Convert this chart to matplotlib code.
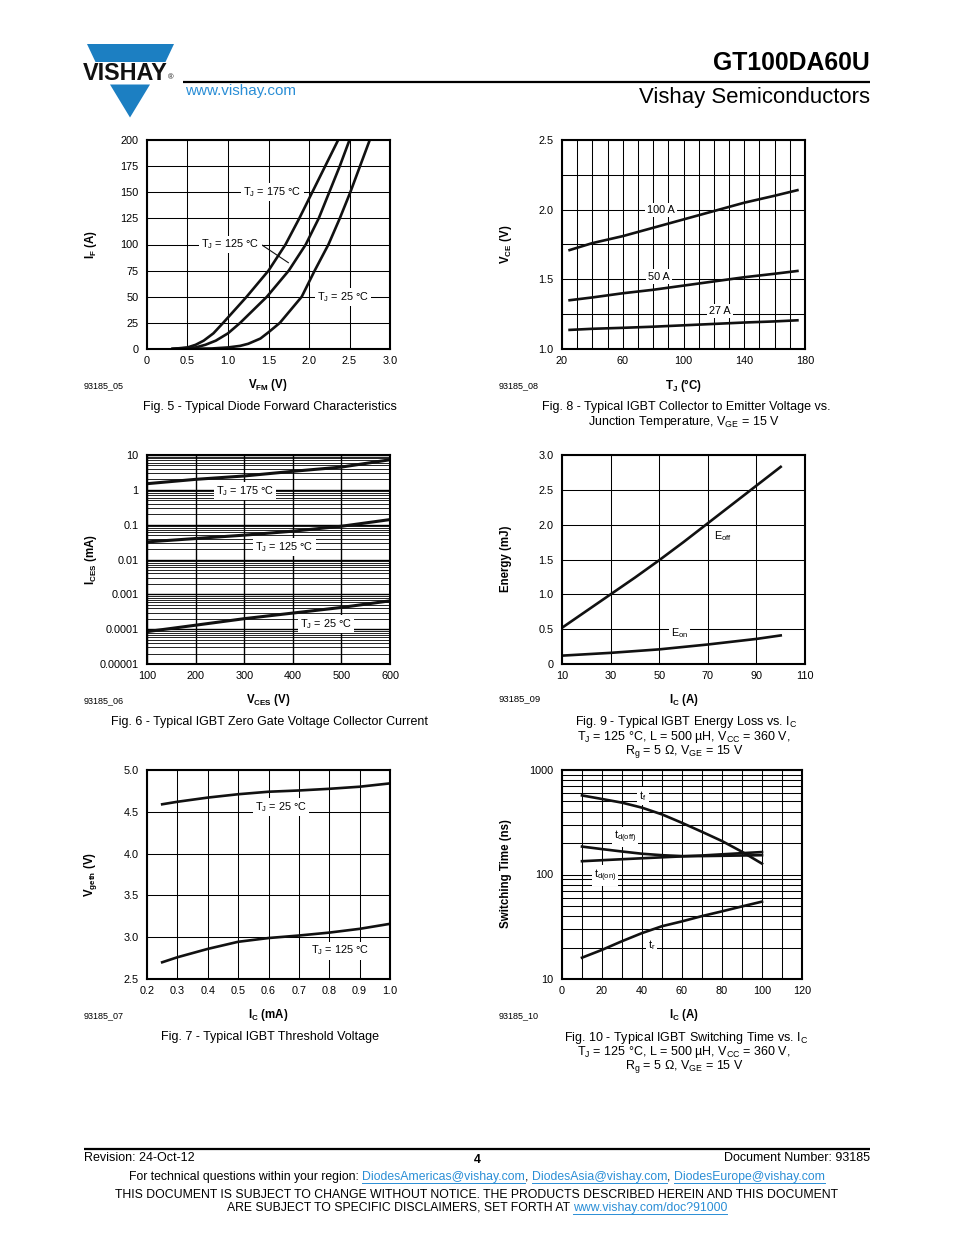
import numpy as np
import matplotlib
matplotlib.use('Agg')
import matplotlib.pyplot as plt
from matplotlib.ticker import FixedLocator, MultipleLocator, NullFormatter
from matplotlib.patches import Polygon

plt.rcParams['font.family'] = ['Liberation Sans', 'DejaVu Sans']
plt.rcParams['mathtext.fontset'] = 'custom'
plt.rcParams['mathtext.rm'] = 'Liberation Sans'
plt.rcParams['mathtext.it'] = 'Liberation Sans:italic'
plt.rcParams['mathtext.bf'] = 'Liberation Sans:bold'

W, H = 954, 1235
BLUE_LOGO = '#1c7fc2'
BLUE_LINK = '#2a8ed6'

# ---- Fig 5: diode forward characteristics
vf_175 = [0.3, 0.5, 0.6, 0.7, 0.82, 0.94, 1.23, 1.5, 1.71, 1.88, 2.04, 2.2, 2.36]
if_175 = [0, 1.5, 4, 8, 15, 25, 50, 75, 100, 125, 150, 175, 200]
vf_125 = [0.3, 0.6, 0.72, 0.85, 1.0, 1.15, 1.48, 1.75, 1.96, 2.12, 2.25, 2.38, 2.5]
if_125 = [0, 1.5, 4, 8, 15, 25, 50, 75, 100, 125, 150, 175, 200]
vf_25 = [0.3, 0.8, 1.0, 1.15, 1.25, 1.4, 1.5, 1.64, 1.91, 2.07, 2.24, 2.38, 2.51, 2.63, 2.75]
if_25 = [0, 0.5, 1.5, 3, 5, 10, 16, 25, 50, 75, 100, 125, 150, 175, 200]

# ---- Fig 8: VCE vs TJ
tj = [25, 40, 60, 80, 100, 120, 140, 160, 175]
vce_100 = [1.71, 1.76, 1.81, 1.87, 1.93, 1.99, 2.05, 2.10, 2.14]
vce_50 = [1.35, 1.37, 1.40, 1.425, 1.455, 1.485, 1.515, 1.54, 1.56]
vce_27 = [1.137, 1.145, 1.152, 1.16, 1.17, 1.18, 1.19, 1.198, 1.206]

# ---- Fig 6: ICES vs VCES
vces = [100, 200, 300, 400, 500, 600]
ices_175 = [1.5, 2.0, 2.5, 3.4, 4.5, 7.3]
ices_125 = [0.032, 0.040, 0.050, 0.065, 0.09, 0.14]
ices_25 = [8.5e-5, 1.3e-4, 2.0e-4, 2.9e-4, 4.2e-4, 6.5e-4]

# ---- Fig 9: energy loss vs IC
ic_e = [10, 20, 30, 40, 50, 60, 70, 80, 90, 100]
e_off = [0.52, 0.76, 1.0, 1.24, 1.49, 1.75, 2.02, 2.29, 2.56, 2.83]
e_on = [0.12, 0.14, 0.16, 0.185, 0.21, 0.245, 0.28, 0.32, 0.36, 0.41]

# ---- Fig 7: threshold voltage
ic_th = [0.25, 0.3, 0.4, 0.5, 0.6, 0.7, 0.8, 0.9, 1.0]
vth_25 = [4.59, 4.62, 4.67, 4.71, 4.74, 4.755, 4.775, 4.80, 4.84]
vth_125 = [2.70, 2.76, 2.86, 2.945, 2.99, 3.02, 3.055, 3.10, 3.16]

# ---- Fig 10: switching time vs IC
ic_s = [10, 20, 30, 40, 50, 60, 70, 80, 90, 100]
t_f = [571, 528, 487, 436, 376, 312, 256, 209, 165, 127]
t_doff = [185, 175, 166, 158, 153, 150, 150, 151, 152, 153]
t_don = [134, 137, 140, 143, 146, 149, 152, 156, 160, 164]
t_r = [16, 19, 23, 27.5, 32, 35.6, 40, 44.4, 49.5, 55]

fig = plt.figure(figsize=(W / 100, H / 100), dpi=100)

TICK_FS = 7.8
LAB_FS = 8.3
CAP_FS = 9.0
CURVE_LW = 1.9
LBOX = dict(facecolor='white', edgecolor='none', pad=1.5)


def make_ax(l, t, r, b):
    ax = fig.add_axes([l / W, 1 - b / H, (r - l) / W, (b - t) / H])
    for s in ax.spines.values():
        s.set_linewidth(1.5)
    ax.tick_params(which='both', length=0, labelsize=TICK_FS)
    ax.tick_params(axis='x', pad=5)
    ax.tick_params(axis='y', pad=6)
    ax.grid(True, which='both', color='black', lw=0.75)
    ax.set_axisbelow(True)
    return ax


def set_lin(ax, xt, xl, yt, yl, xminor=None, yminor=None):
    ax.set_xlim(xt[0], xt[-1])
    ax.set_ylim(yt[0], yt[-1])
    ax.set_xticks(xt)
    ax.set_xticklabels(xl)
    ax.set_yticks(yt)
    ax.set_yticklabels(yl)
    if xminor:
        ax.xaxis.set_minor_locator(MultipleLocator(xminor))
    if yminor:
        ax.yaxis.set_minor_locator(MultipleLocator(yminor))


# ---------------- Fig 5
ax5 = make_ax(147, 140, 390, 349)
set_lin(ax5, [0, 0.5, 1.0, 1.5, 2.0, 2.5, 3.0], ['0', '0.5', '1.0', '1.5', '2.0', '2.5', '3.0'],
        [0, 25, 50, 75, 100, 125, 150, 175, 200], ['0', '25', '50', '75', '100', '125', '150', '175', '200'])
ax5.plot(vf_175, if_175, color='#111', lw=CURVE_LW, solid_capstyle='butt')
ax5.plot(vf_125, if_125, color='#111', lw=CURVE_LW, solid_capstyle='butt')
ax5.plot(vf_25, if_25, color='#111', lw=CURVE_LW, solid_capstyle='butt')
ax5.text(1.55, 150, r'$\mathregular{T_J}$ = 175 °C', fontsize=TICK_FS, ha='center', va='center', bbox=LBOX)
ax5.text(1.03, 100, r'$\mathregular{T_J}$ = 125 °C', fontsize=TICK_FS, ha='center', va='center', bbox=LBOX)
ax5.plot([1.40, 1.745], [100.5, 82.6], color='#111', lw=0.8)
ax5.text(2.42, 50, r'$\mathregular{T_J}$ = 25 °C', fontsize=TICK_FS, ha='center', va='center', bbox=LBOX)

# ---------------- Fig 8
ax8 = make_ax(562, 140, 805, 349)
set_lin(ax8, [20, 60, 100, 140, 180], ['20', '60', '100', '140', '180'],
        [1.0, 1.5, 2.0, 2.5], ['1.0', '1.5', '2.0', '2.5'], xminor=10, yminor=0.25)
for v in (vce_100, vce_50, vce_27):
    ax8.plot(tj, v, color='#111', lw=CURVE_LW)
ax8.text(85, 2.0, '100 A', fontsize=TICK_FS, ha='center', va='center', bbox=LBOX)
ax8.text(84, 1.52, '50 A', fontsize=TICK_FS, ha='center', va='center', bbox=LBOX)
ax8.text(124, 1.27, '27 A', fontsize=TICK_FS, ha='center', va='center', bbox=LBOX)

# ---------------- Fig 6
ax6 = make_ax(147, 455, 390, 664)
ax6.set_yscale('log')
ax6.set_xlim(100, 600)
ax6.set_ylim(1e-5, 10)
ax6.set_xticks([100, 200, 300, 400, 500, 600])
ax6.set_xticklabels(['100', '200', '300', '400', '500', '600'])
ax6.yaxis.set_major_locator(FixedLocator([1e-5, 1e-4, 1e-3, 1e-2, 1e-1, 1, 10]))
ax6.set_yticklabels(['0.00001', '0.0001', '0.001', '0.01', '0.1', '1', '10'])
ax6.yaxis.set_minor_locator(FixedLocator([m * 10.0 ** d for d in range(-5, 1) for m in range(2, 10)]))
ax6.yaxis.set_minor_formatter(NullFormatter())
ax6.grid(True, which='minor', axis='y', color='black', lw=0.6)
ax6.grid(True, which='major', color='black', lw=1.0)
for i in (ices_175, ices_125, ices_25):
    ax6.plot(vces, i, color='#111', lw=CURVE_LW + 0.3)
ax6.text(301, 0.9, r'$\mathregular{T_J}$ = 175 °C', fontsize=TICK_FS, ha='center', va='center', bbox=LBOX)
ax6.text(383, 0.023, r'$\mathregular{T_J}$ = 125 °C', fontsize=TICK_FS, ha='center', va='center', bbox=LBOX)
ax6.text(469, 1.4e-4, r'$\mathregular{T_J}$ = 25 °C', fontsize=TICK_FS, ha='center', va='center', bbox=LBOX)

# ---------------- Fig 9
ax9 = make_ax(562, 455, 805, 664)
set_lin(ax9, [10, 30, 50, 70, 90, 110], ['10', '30', '50', '70', '90', '110'],
        [0, 0.5, 1.0, 1.5, 2.0, 2.5, 3.0], ['0', '0.5', '1.0', '1.5', '2.0', '2.5', '3.0'])
ax9.plot(ic_e, e_off, color='#111', lw=CURVE_LW)
ax9.plot(ic_e, e_on, color='#111', lw=CURVE_LW)
ax9.text(76.4, 1.83, r'$\mathregular{E_{off}}$', fontsize=TICK_FS, ha='center', va='center', bbox=LBOX)
ax9.text(58.4, 0.45, r'$\mathregular{E_{on}}$', fontsize=TICK_FS, ha='center', va='center', bbox=LBOX)

# ---------------- Fig 7
ax7 = make_ax(147, 770, 390, 979)
set_lin(ax7, [0.2, 0.3, 0.4, 0.5, 0.6, 0.7, 0.8, 0.9, 1.0],
        ['0.2', '0.3', '0.4', '0.5', '0.6', '0.7', '0.8', '0.9', '1.0'],
        [2.5, 3.0, 3.5, 4.0, 4.5, 5.0], ['2.5', '3.0', '3.5', '4.0', '4.5', '5.0'])
ax7.plot(ic_th, vth_25, color='#111', lw=CURVE_LW)
ax7.plot(ic_th, vth_125, color='#111', lw=CURVE_LW)
ax7.text(0.64, 4.555, r'$\mathregular{T_J}$ = 25 °C', fontsize=TICK_FS, ha='center', va='center', bbox=LBOX)
ax7.text(0.834, 2.84, r'$\mathregular{T_J}$ = 125 °C', fontsize=TICK_FS, ha='center', va='center', bbox=LBOX)

# ---------------- Fig 10
ax10 = make_ax(562, 770, 802, 979)
ax10.set_yscale('log')
ax10.set_xlim(0, 120)
ax10.set_ylim(10, 1000)
ax10.set_xticks([0, 20, 40, 60, 80, 100, 120])
ax10.set_xticklabels(['0', '20', '40', '60', '80', '100', '120'])
ax10.xaxis.set_minor_locator(MultipleLocator(10))
ax10.yaxis.set_major_locator(FixedLocator([10, 100, 1000]))
ax10.set_yticklabels(['10', '100', '1000'])
ax10.yaxis.set_minor_locator(FixedLocator([m * 10.0 ** d for d in (1, 2) for m in range(2, 10)]))
ax10.yaxis.set_minor_formatter(NullFormatter())
ax10.grid(True, which='both', color='black', lw=0.75)
for t in (t_f, t_doff, t_don, t_r):
    ax10.plot(ic_s, t, color='#111', lw=CURVE_LW)
ax10.text(40.5, 563, r'$\mathregular{t_f}$', fontsize=TICK_FS, ha='center', va='center', bbox=LBOX)
ax10.text(31.5, 228, r'$\mathregular{t_{d(off)}}$', fontsize=TICK_FS, ha='center', va='center', bbox=LBOX)
ax10.text(21.4, 98, r'$\mathregular{t_{d(on)}}$', fontsize=TICK_FS, ha='center', va='center', bbox=LBOX)
ax10.text(44.7, 21.2, r'$\mathregular{t_r}$', fontsize=TICK_FS, ha='center', va='center', bbox=LBOX)

# ---------------- page overlay (pixel coordinates)
pg = fig.add_axes([0, 0, 1, 1])
pg.set_xlim(0, W)
pg.set_ylim(H, 0)
pg.set_axis_off()

# logo
pg.add_patch(Polygon([[87, 44], [174, 44], [165.5, 62], [95.5, 62]], closed=True, color=BLUE_LOGO, lw=0))
pg.add_patch(Polygon([[110, 84.5], [150, 84.5], [130, 117.5]], closed=True, color=BLUE_LOGO, lw=0))
pg.text(125, 73.5, 'VISHAY', fontsize=16.8, fontweight='bold', ha='center', va='center', color='#111')
pg.text(171, 78, '®', fontsize=5.5, ha='center', va='center', color='#111')

pg.plot([183, 870], [82, 82], color='black', lw=1.6, solid_capstyle='butt')
pg.text(870, 63, 'GT100DA60U', fontsize=17.8, fontweight='bold', ha='right', va='center')
pg.text(870, 98, 'Vishay Semiconductors', fontsize=15.9, ha='right', va='center')
pg.text(185, 91, 'www.vishay.com', fontsize=11, ha='left', va='center', color=BLUE_LINK)

# axis titles, ids and captions
pg.text(91, 244, r'$\mathregular{I_F}$ (A)', fontsize=LAB_FS, fontweight='bold', rotation=90, ha='center', va='center')
pg.text(268, 385, r'$\mathregular{V_{FM}}$ (V)', fontsize=LAB_FS, fontweight='bold', ha='center', va='center')
pg.text(84, 386, '93185_05', fontsize=6.5, ha='left', va='center')
pg.text(270, 407, 'Fig. 5 - Typical Diode Forward Characteristics', fontsize=CAP_FS, ha='center', va='center')

pg.text(506, 244, r'$\mathregular{V_{CE}}$ (V)', fontsize=LAB_FS, fontweight='bold', rotation=90, ha='center', va='center')
pg.text(684, 385, r'$\mathregular{T_J}$ (°C)', fontsize=LAB_FS, fontweight='bold', ha='center', va='center')
pg.text(499, 386, '93185_08', fontsize=6.5, ha='left', va='center')
pg.text(686, 407, 'Fig. 8 - Typical IGBT Collector to Emitter Voltage vs.', fontsize=CAP_FS, ha='center', va='center')
pg.text(684, 421.5, r'Junction Temperature, $\mathregular{V_{GE}}$ = 15 V', fontsize=CAP_FS, ha='center', va='center')

pg.text(91, 559, r'$\mathregular{I_{CES}}$ (mA)', fontsize=LAB_FS, fontweight='bold', rotation=90, ha='center', va='center')
pg.text(268, 700, r'$\mathregular{V_{CES}}$ (V)', fontsize=LAB_FS, fontweight='bold', ha='center', va='center')
pg.text(84, 701, '93185_06', fontsize=6.5, ha='left', va='center')
pg.text(270, 722, 'Fig. 6 - Typical IGBT Zero Gate Voltage Collector Current', fontsize=CAP_FS, ha='center', va='center')

pg.text(506, 559, 'Energy (mJ)', fontsize=LAB_FS, fontweight='bold', rotation=90, ha='center', va='center')
pg.text(684, 700, r'$\mathregular{I_C}$ (A)', fontsize=LAB_FS, fontweight='bold', ha='center', va='center')
pg.text(499, 699, '93185_09', fontsize=6.8, ha='left', va='center')
pg.text(686, 722.5, r'Fig. 9 - Typical IGBT Energy Loss vs. $\mathregular{I_C}$', fontsize=CAP_FS, ha='center', va='center')
pg.text(684, 737, r'$\mathregular{T_J}$ = 125 °C, L = 500 µH, $\mathregular{V_{CC}}$ = 360 V,', fontsize=CAP_FS, ha='center', va='center')
pg.text(684, 751.5, r'$\mathregular{R_g}$ = 5 Ω, $\mathregular{V_{GE}}$ = 15 V', fontsize=CAP_FS, ha='center', va='center')

pg.text(91, 874, r'$\mathregular{V_{geth}}$ (V)', fontsize=LAB_FS, fontweight='bold', rotation=90, ha='center', va='center')
pg.text(268, 1015, r'$\mathregular{I_C}$ (mA)', fontsize=LAB_FS, fontweight='bold', ha='center', va='center')
pg.text(84, 1016, '93185_07', fontsize=6.5, ha='left', va='center')
pg.text(270, 1037, 'Fig. 7 - Typical IGBT Threshold Voltage', fontsize=CAP_FS, ha='center', va='center')

pg.text(506, 874, 'Switching Time (ns)', fontsize=LAB_FS, fontweight='bold', rotation=90, ha='center', va='center')
pg.text(684, 1015, r'$\mathregular{I_C}$ (A)', fontsize=LAB_FS, fontweight='bold', ha='center', va='center')
pg.text(499, 1016, '93185_10', fontsize=6.5, ha='left', va='center')
pg.text(686, 1037.5, r'Fig. 10 - Typical IGBT Switching Time vs. $\mathregular{I_C}$', fontsize=CAP_FS, ha='center', va='center')
pg.text(684, 1052, r'$\mathregular{T_J}$ = 125 °C, L = 500 µH, $\mathregular{V_{CC}}$ = 360 V,', fontsize=CAP_FS, ha='center', va='center')
pg.text(684, 1066.5, r'$\mathregular{R_g}$ = 5 Ω, $\mathregular{V_{GE}}$ = 15 V', fontsize=CAP_FS, ha='center', va='center')

# footer
pg.plot([84, 870], [1149, 1149], color='black', lw=1.6, solid_capstyle='butt')
FOOT_FS = 8.8
pg.text(84, 1158, 'Revision: 24-Oct-12', fontsize=9.0, ha='left', va='center')
pg.text(477, 1160, '4', fontsize=FOOT_FS, fontweight='bold', ha='center', va='center')
pg.text(870, 1158, 'Document Number: 93185', fontsize=9.0, ha='right', va='center')

renderer = fig.canvas.get_renderer()


def text_w(s):
    t = pg.text(0, 0, s, fontsize=FOOT_FS)
    w = t.get_window_extent(renderer=renderer).width
    t.remove()
    return w


SPACE_W = text_w('a a') - text_w('aa')


def rich_line(y, parts, xc):
    # parts: (text, color, underline, space_after)
    widths = [text_w(p[0]) for p in parts]
    total = sum(widths) + SPACE_W * sum(1 for p in parts if p[3])
    x = xc - total / 2
    for (s, c, u, sp), w in zip(parts, widths):
        pg.text(x, y, s, fontsize=FOOT_FS, color=c, ha='left', va='center')
        if u:
            pg.plot([x, x + w], [y + 6, y + 6], color=c, lw=0.7)
        x += w + (SPACE_W if sp else 0)


rich_line(1177, [('For technical questions within your region:', 'black', False, True),
                 ('DiodesAmericas@vishay.com', BLUE_LINK, True, False),
                 (',', 'black', False, True),
                 ('DiodesAsia@vishay.com', BLUE_LINK, True, False),
                 (',', 'black', False, True),
                 ('DiodesEurope@vishay.com', BLUE_LINK, True, False)], 477)
pg.text(477, 1195, 'THIS DOCUMENT IS SUBJECT TO CHANGE WITHOUT NOTICE. THE PRODUCTS DESCRIBED HEREIN AND THIS DOCUMENT',
        fontsize=FOOT_FS, ha='center', va='center')
rich_line(1208, [('ARE SUBJECT TO SPECIFIC DISCLAIMERS, SET FORTH AT', 'black', False, True),
                 ('www.vishay.com/doc?91000', BLUE_LINK, True, False)], 477)

fig.savefig('out.png', dpi=100)
